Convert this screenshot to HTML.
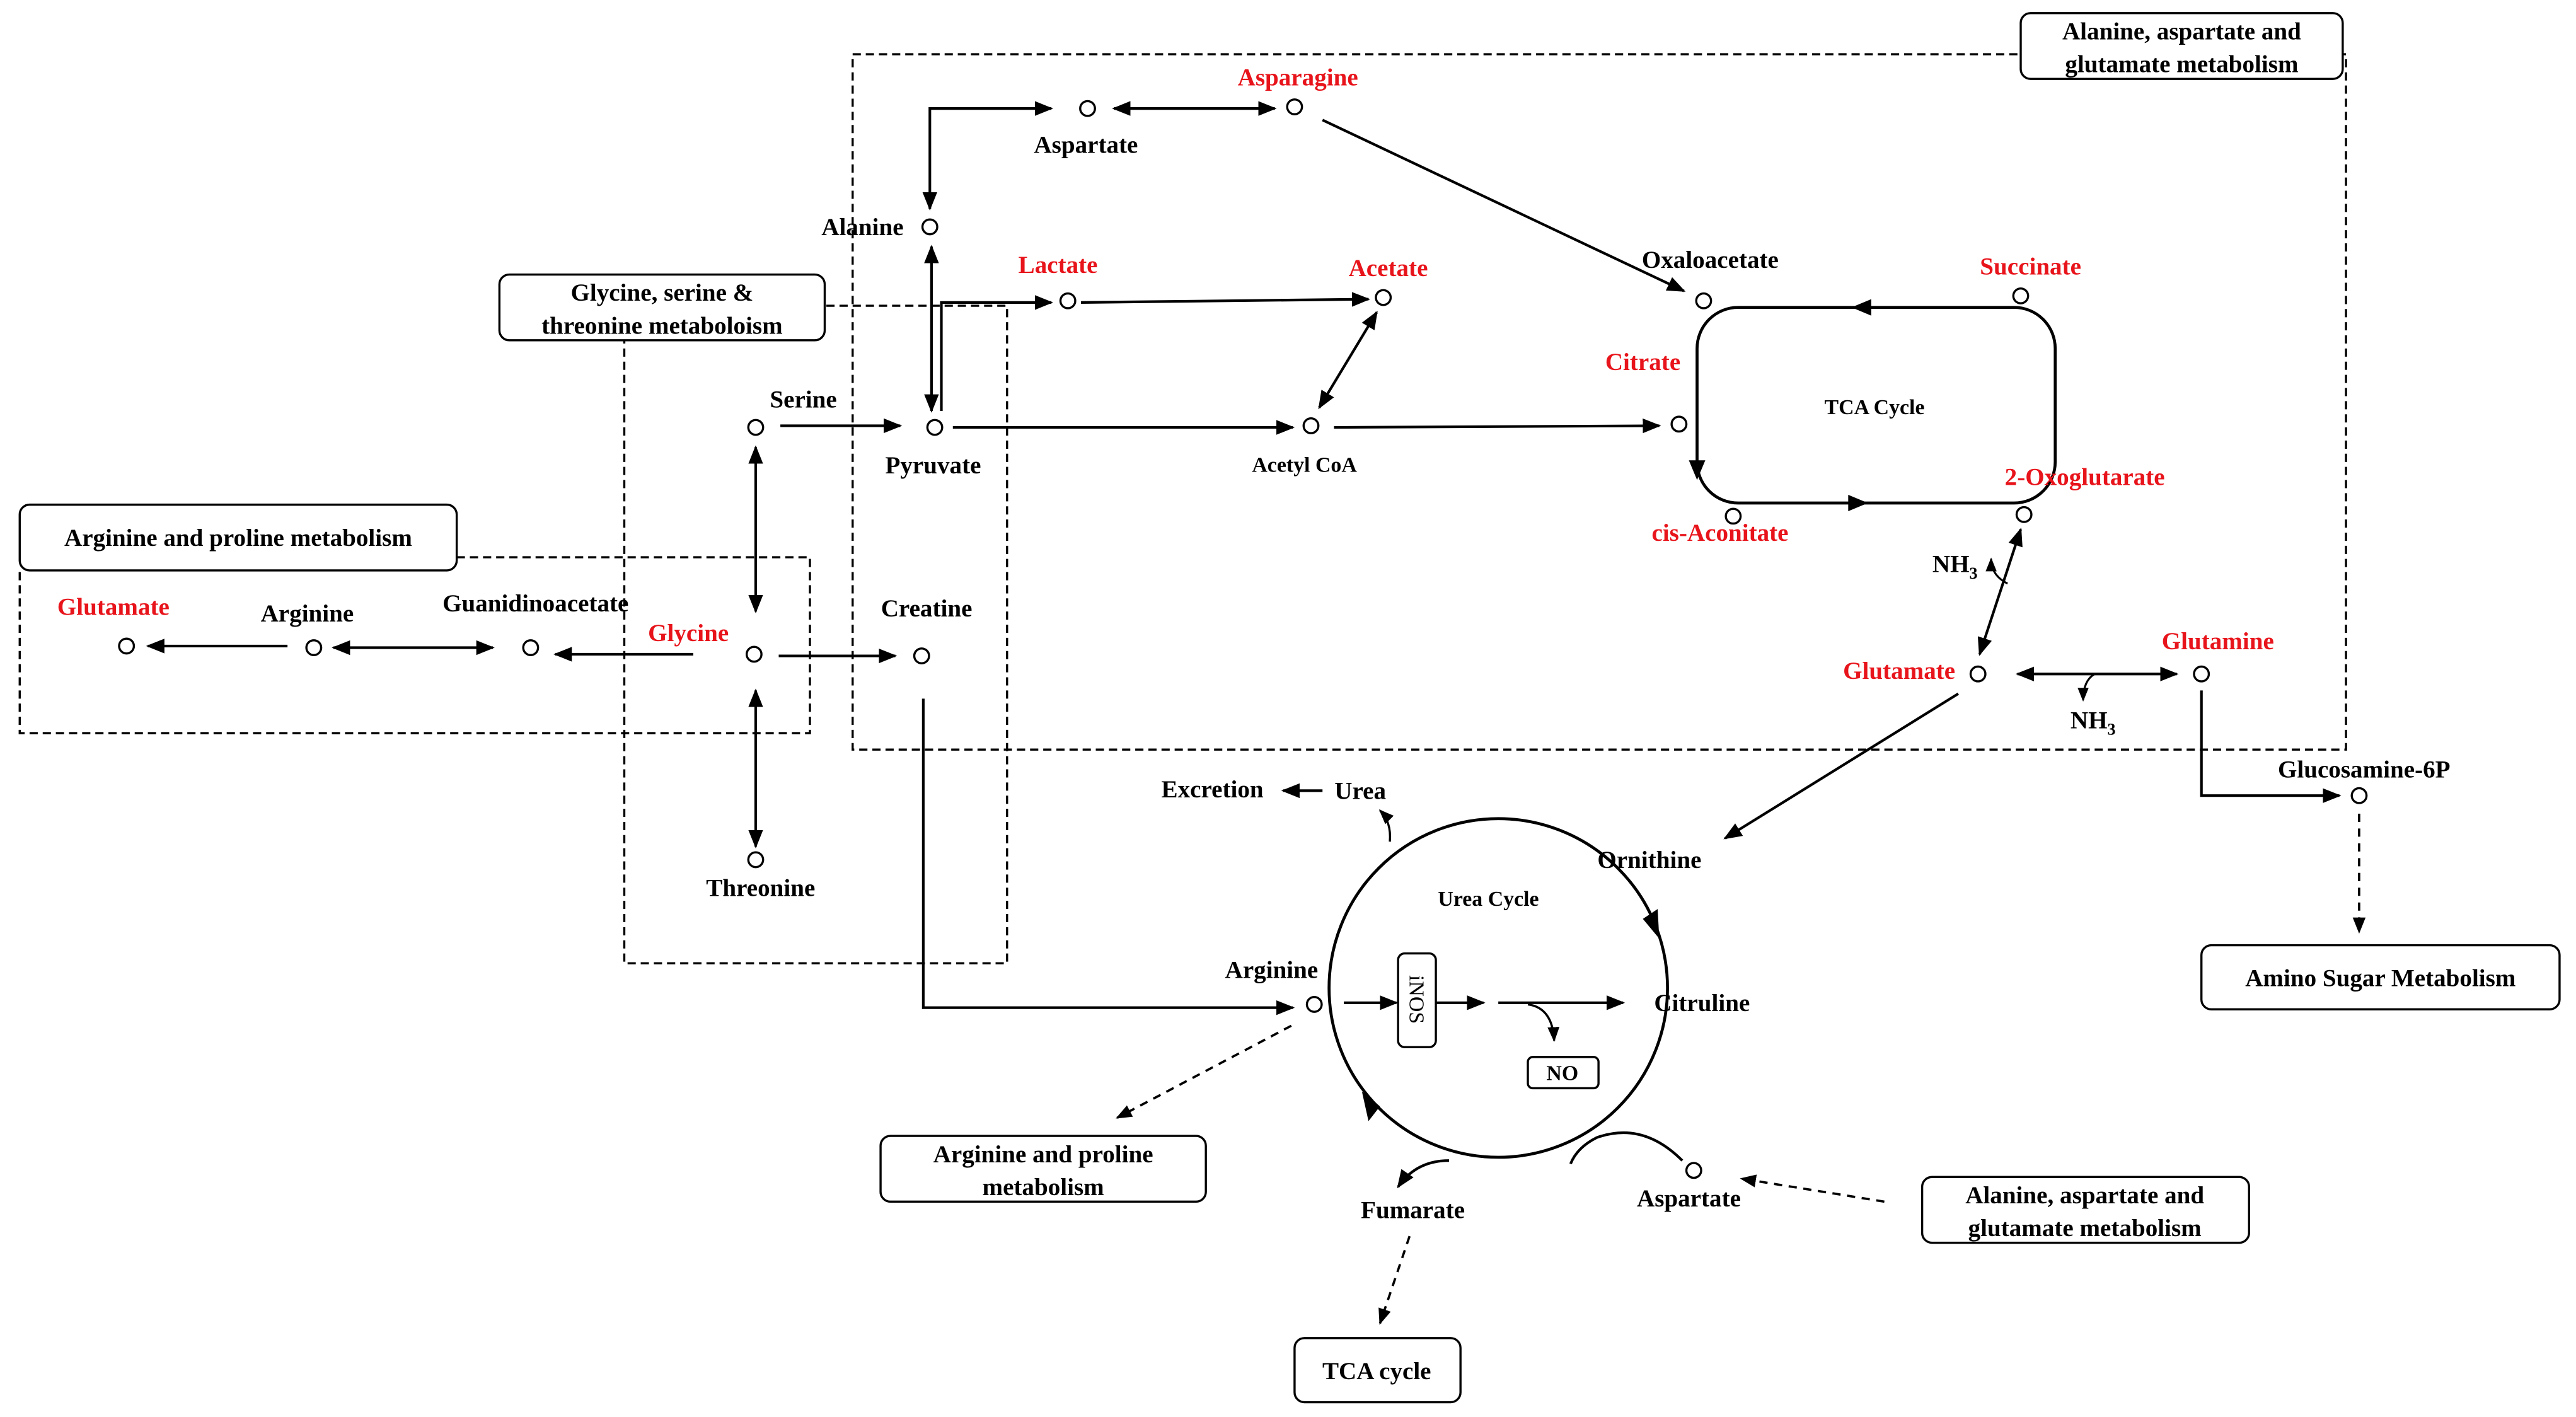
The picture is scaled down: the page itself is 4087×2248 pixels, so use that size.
<!DOCTYPE html>
<html><head><meta charset="utf-8"><style>
html,body{margin:0;padding:0;background:#fff}
svg{display:block}
text{font-family:"Liberation Serif",serif;font-weight:bold;font-size:15px;fill:#000}
.r{fill:#e8141b}
.s{font-size:13px}
</style></head><body>
<svg width="4087" height="2248" viewBox="0 0 1568 862" preserveAspectRatio="none" xmlns="http://www.w3.org/2000/svg">
<defs>
<marker id="a" viewBox="0 0 10 10" refX="9" refY="5" markerWidth="7" markerHeight="7" orient="auto-start-reverse"><path d="M0,1 L10,5 L0,9 z" fill="#000"/></marker>
</defs>
<g fill="none" stroke="#000" stroke-width="1.3" stroke-dasharray="5,3">
<rect x="519" y="33" width="909" height="423"/>
<path d="M503 186 H613 V586 H380 V207"/>
<path d="M278 339 H493 V446 H12 V347"/>
</g>
<g fill="#fff" stroke="#000" stroke-width="1.3">
<rect x="1230" y="8" width="196" height="40" rx="6"/>
<rect x="304" y="167" width="198" height="40" rx="6"/>
<rect x="12" y="307" width="266" height="40" rx="6"/>
<rect x="1340" y="575" width="218" height="39" rx="6"/>
<rect x="536" y="691" width="198" height="40" rx="6"/>
<rect x="788" y="814" width="101" height="39" rx="6"/>
<rect x="1170" y="716" width="199" height="40" rx="6"/>
</g>
<g fill="none" stroke="#000" stroke-width="1.8">
<rect x="1033" y="187" width="218" height="119" rx="25"/>
<circle cx="912" cy="601" r="103"/>
</g>
<g fill="#000">
<path d="M1127 187 l12 -5 v10 z"/>
<path d="M1137 306 l-12 -5 v10 z"/>
<path d="M1033 292 l-5 -12 h10 z"/>
<path d="M1010 571 l-1 -18 l-9 6 z"/>
<path d="M829 664 l4 18 l7 -9 z"/>
</g>
<g fill="none" stroke="#000" stroke-width="1.6" marker-end="url(#a)">
<path d="M640 66 H566 V127" marker-start="url(#a)"/>
<path d="M678 66 H776" marker-start="url(#a)"/>
<path d="M805 73 L1025 177"/>
<path d="M567 150 V250" marker-start="url(#a)"/>
<path d="M573 250 V184 H640"/>
<path d="M658 184 L833 182"/>
<path d="M838 190 L803 248" marker-start="url(#a)"/>
<path d="M580 260 H787"/>
<path d="M812 260 L1010 259"/>
<path d="M475 259 H548"/>
<path d="M460 272 V372" marker-start="url(#a)"/>
<path d="M460 420 V515" marker-start="url(#a)"/>
<path d="M474 399 H545"/>
<path d="M422 398 H338"/>
<path d="M300 394 H203" marker-start="url(#a)"/>
<path d="M175 393 H90"/>
<path d="M562 425 V613 H787"/>
<path d="M1230 322 L1205 398" marker-start="url(#a)"/>
<path d="M1222 355 Q1212 350 1212 340" stroke-width="1.2"/>
<path d="M1228 410 H1325" marker-start="url(#a)"/>
<path d="M1275 410 Q1268 414 1268 426" stroke-width="1.2"/>
<path d="M1192 422 L1050 510"/>
<path d="M1340 420 V484 H1424"/>
<path d="M805 481 H781"/>
<path d="M818 610 H850"/>
<path d="M874 610 H903"/>
<path d="M912 610 H988"/>
<path d="M930 611 Q945 613 946 633" stroke-width="1.3"/>
<path d="M1024 706 Q1000 682 972 692 Q960 698 956 708" marker-end="none"/>
<path d="M882 706 Q862 706 851 722"/>
<path d="M846 512 Q847 500 840 493" stroke-width="1.3"/>
</g>
<g fill="none" stroke="#000" stroke-width="1.4" stroke-dasharray="5,4" marker-end="url(#a)">
<path d="M1436 495 V567"/>
<path d="M786 624 L680 680"/>
<path d="M858 752 L840 805"/>
<path d="M1147 731 L1060 717"/>
</g>
<rect x="851" y="580" width="23" height="57" rx="4" fill="#fff" stroke="#000" stroke-width="1.3"/>
<rect x="930" y="643" width="43" height="19" rx="3" fill="#fff" stroke="#000" stroke-width="1.3"/>
<g fill="#fff" stroke="#000" stroke-width="1.3">
<circle cx="662" cy="66" r="4.5"/><circle cx="788" cy="65" r="4.5"/><circle cx="566" cy="138" r="4.5"/>
<circle cx="650" cy="183" r="4.5"/><circle cx="842" cy="181" r="4.5"/><circle cx="460" cy="260" r="4.5"/>
<circle cx="569" cy="260" r="4.5"/><circle cx="798" cy="259" r="4.5"/><circle cx="1037" cy="183" r="4.5"/>
<circle cx="1022" cy="258" r="4.5"/><circle cx="1230" cy="180" r="4.5"/><circle cx="1055" cy="314" r="4.5"/>
<circle cx="1232" cy="313" r="4.5"/><circle cx="1204" cy="410" r="4.5"/><circle cx="1340" cy="410" r="4.5"/>
<circle cx="1436" cy="484" r="4.5"/><circle cx="77" cy="393" r="4.5"/><circle cx="191" cy="394" r="4.5"/>
<circle cx="323" cy="394" r="4.5"/><circle cx="459" cy="398" r="4.5"/><circle cx="561" cy="399" r="4.5"/>
<circle cx="460" cy="523" r="4.5"/><circle cx="800" cy="611" r="4.5"/><circle cx="1031" cy="712" r="4.5"/>
</g>
<g text-anchor="middle">
<text x="1328" y="24">Alanine, aspartate and</text><text x="1328" y="44">glutamate metabolism</text>
<text x="403" y="183">Glycine, serine &amp;</text><text x="403" y="203">threonine metaboloism</text>
<text x="145" y="332">Arginine and proline metabolism</text>
<text x="1449" y="600">Amino Sugar Metabolism</text>
<text x="635" y="707">Arginine and proline</text><text x="635" y="727">metabolism</text>
<text x="838" y="839">TCA cycle</text>
<text x="1269" y="732">Alanine, aspartate and</text><text x="1269" y="752">glutamate metabolism</text>
<text x="661" y="93">Aspartate</text>
<text x="790" y="52" class="r">Asparagine</text>
<text x="525" y="143">Alanine</text>
<text x="644" y="166" class="r">Lactate</text>
<text x="845" y="168" class="r">Acetate</text>
<text x="489" y="248">Serine</text>
<text x="568" y="288">Pyruvate</text>
<text x="794" y="287" class="s">Acetyl CoA</text>
<text x="1041" y="163">Oxaloacetate</text>
<text x="1000" y="225" class="r">Citrate</text>
<text x="1236" y="167" class="r">Succinate</text>
<text x="1141" y="252" class="s">TCA Cycle</text>
<text x="1047" y="329" class="r">cis-Aconitate</text>
<text x="1269" y="295" class="r">2-Oxoglutarate</text>
<text x="1190" y="348">NH<tspan font-size="10" dy="4">3</tspan></text>
<text x="1156" y="413" class="r">Glutamate</text>
<text x="1350" y="395" class="r">Glutamine</text>
<text x="1274" y="443">NH<tspan font-size="10" dy="4">3</tspan></text>
<text x="1439" y="473">Glucosamine-6P</text>
<text x="69" y="374" class="r">Glutamate</text>
<text x="187" y="378">Arginine</text>
<text x="326" y="372">Guanidinoacetate</text>
<text x="419" y="390" class="r">Glycine</text>
<text x="564" y="375">Creatine</text>
<text x="463" y="545">Threonine</text>
<text x="738" y="485">Excretion</text>
<text x="828" y="486">Urea</text>
<text x="1004" y="528">Ornithine</text>
<text x="906" y="551" class="s">Urea Cycle</text>
<text x="774" y="595">Arginine</text>
<text x="1036" y="615">Citruline</text>
<text x="951" y="657" class="s">NO</text>
<text x="860" y="741">Fumarate</text>
<text x="1028" y="734">Aspartate</text>
<text transform="translate(858 608) rotate(90)" class="s" style="font-weight:normal">iNOS</text>
</g>
</svg>
</body></html>
